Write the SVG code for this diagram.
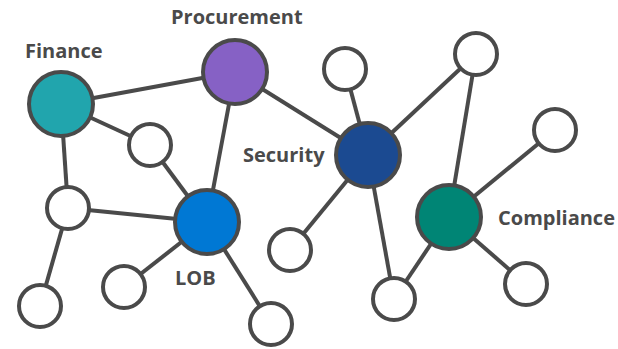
<svg xmlns="http://www.w3.org/2000/svg" width="618" height="349" viewBox="0 0 618 349">
<style>
.e{stroke:#4a4a4a;stroke-width:4;fill:none}
.n{stroke:#4a4a4a;stroke-width:4}
.s{fill:#fff}
.t{font-family:"Open Sans","Liberation Sans",sans-serif;font-weight:700;font-size:20px;fill:#4a4a4a}
</style>
<rect width="618" height="349" fill="#fff"/>
<g id="connectors" class="e">
<line x1="61" y1="104" x2="235" y2="72"/>
<line x1="61" y1="104" x2="150" y2="145"/>
<line x1="61" y1="104" x2="68" y2="208"/>
<line x1="150" y1="145" x2="207" y2="222"/>
<line x1="235" y1="72" x2="207" y2="222"/>
<line x1="235" y1="72" x2="368" y2="155"/>
<line x1="68" y1="208" x2="207" y2="222"/>
<line x1="68" y1="208" x2="40" y2="306"/>
<line x1="207" y1="222" x2="124" y2="287"/>
<line x1="207" y1="222" x2="271" y2="324"/>
<line x1="368" y1="155" x2="345" y2="69"/>
<line x1="368" y1="155" x2="476" y2="54"/>
<line x1="368" y1="155" x2="290" y2="250"/>
<line x1="368" y1="155" x2="394" y2="299"/>
<line x1="476" y1="54" x2="449" y2="217"/>
<line x1="449" y1="217" x2="555" y2="130"/>
<line x1="449" y1="217" x2="394" y2="299"/>
<line x1="449" y1="217" x2="526" y2="284"/>
</g>
<g id="finance"><circle class="n" cx="61" cy="104" r="32" fill="#21A5AD"/><text class="t" x="25" y="58">Finance</text></g>
<g id="procurement"><circle class="n" cx="235" cy="72" r="32" fill="#8661C5"/><text class="t" x="171" y="24">Procurement</text></g>
<g id="security"><circle class="n" cx="368" cy="155" r="32" fill="#1B4A91"/><text class="t" x="243" y="162">Security</text></g>
<g id="lob"><circle class="n" cx="207" cy="222" r="32" fill="#0078D4"/><text class="t" x="175" y="285">LOB</text></g>
<g id="compliance"><circle class="n" cx="449" cy="217" r="32" fill="#008575"/><text class="t" x="498" y="225">Compliance</text></g>
<g id="n1"><circle class="n s" cx="150" cy="145" r="21"/></g>
<g id="n2"><circle class="n s" cx="68" cy="208" r="21"/></g>
<g id="n3"><circle class="n s" cx="40" cy="306" r="21"/></g>
<g id="n4"><circle class="n s" cx="124" cy="287" r="21"/></g>
<g id="n5"><circle class="n s" cx="271" cy="324" r="21"/></g>
<g id="n6"><circle class="n s" cx="345" cy="69" r="21"/></g>
<g id="n7"><circle class="n s" cx="476" cy="54" r="21"/></g>
<g id="n8"><circle class="n s" cx="290" cy="250" r="21"/></g>
<g id="n9"><circle class="n s" cx="394" cy="299" r="21"/></g>
<g id="n10"><circle class="n s" cx="555" cy="130" r="21"/></g>
<g id="n11"><circle class="n s" cx="526" cy="284" r="21"/></g>
</svg>
